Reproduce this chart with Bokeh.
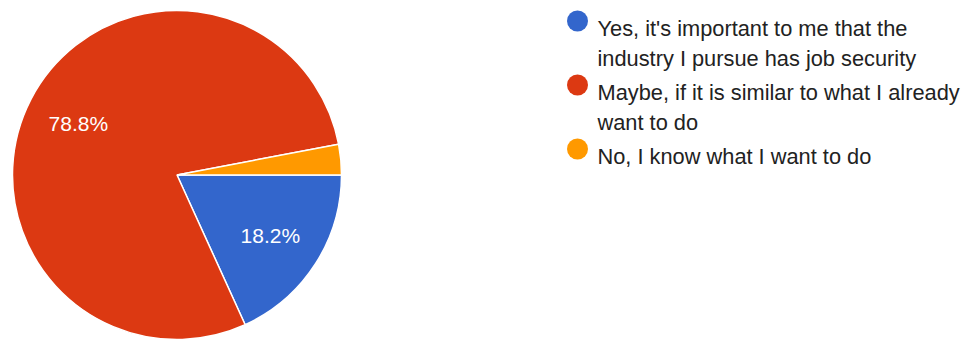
import numpy as np
from bokeh.plotting import figure
from bokeh.models import Range1d, ColumnDataSource
from bokeh.core.properties import value
from bokeh.embed import file_html
from bokeh.resources import INLINE

# ---- data ----
categories = [
    "Yes, it's important to me that the\nindustry I pursue has job security",
    "Maybe, if it is similar to what I already\nwant to do",
    "No, I know what I want to do",
]
percentages = [18.2, 78.8, 3.0]
colors = ["#3366CC", "#DC3912", "#FF9900"]
show_label = [True, True, False]

W, H = 975, 339
FONT = "Liberation Sans"

p = figure(width=W, height=H, output_backend="svg", toolbar_location=None,
           x_range=Range1d(0, W), y_range=Range1d(0, H), min_border=0)
p.axis.visible = False
p.grid.visible = False
p.outline_line_color = None
p.background_fill_color = "white"
p.border_fill_color = "white"

# pie geometry (layout)
cx, cy, r = 176.5, H - 174.5, 164.5
fr = np.array(percentages) / sum(percentages)
cum = np.concatenate([[0], np.cumsum(fr)])
# clockwise from 3 o'clock
start = -2 * np.pi * cum[1:]
end = -2 * np.pi * cum[:-1]
src = ColumnDataSource(dict(start=start, end=end, color=colors))
p.wedge(x=cx, y=cy, radius=r, start_angle="start", end_angle="end",
        fill_color="color", line_color="white", line_width=1.5, source=src)

mid = (start + end) / 2
lr = r * 0.675
lx, ly, lt = [], [], []
for m, pc, s in zip(mid, percentages, show_label):
    if s:
        lx.append(cx + lr * np.cos(m))
        ly.append(cy + lr * np.sin(m))
        lt.append(f"{pc:.1f}%")
p.text(x=lx, y=ly, text=lt, text_color="white", text_font=value(FONT),
       text_font_size="21px", text_align="center", text_baseline="middle")

# legend (drawn manually)
leg_x, text_x = 577, 597
y = H - 28  # baseline of first line
line_h = 29.5
gap = 5
for lab, col in zip(categories, colors):
    lines = lab.split("\n")
    p.scatter(x=[leg_x], y=[y + 7.5], size=21, marker="circle",
              fill_color=col, line_color=None)
    for ln in lines:
        p.text(x=[text_x], y=[y], text=[ln], text_color="#222222",
               text_font=value(FONT), text_font_size="21.8px",
               text_align="left", text_baseline="alphabetic")
        y -= line_h
    y -= gap

open("out.html", "w").write(file_html(p, INLINE))
